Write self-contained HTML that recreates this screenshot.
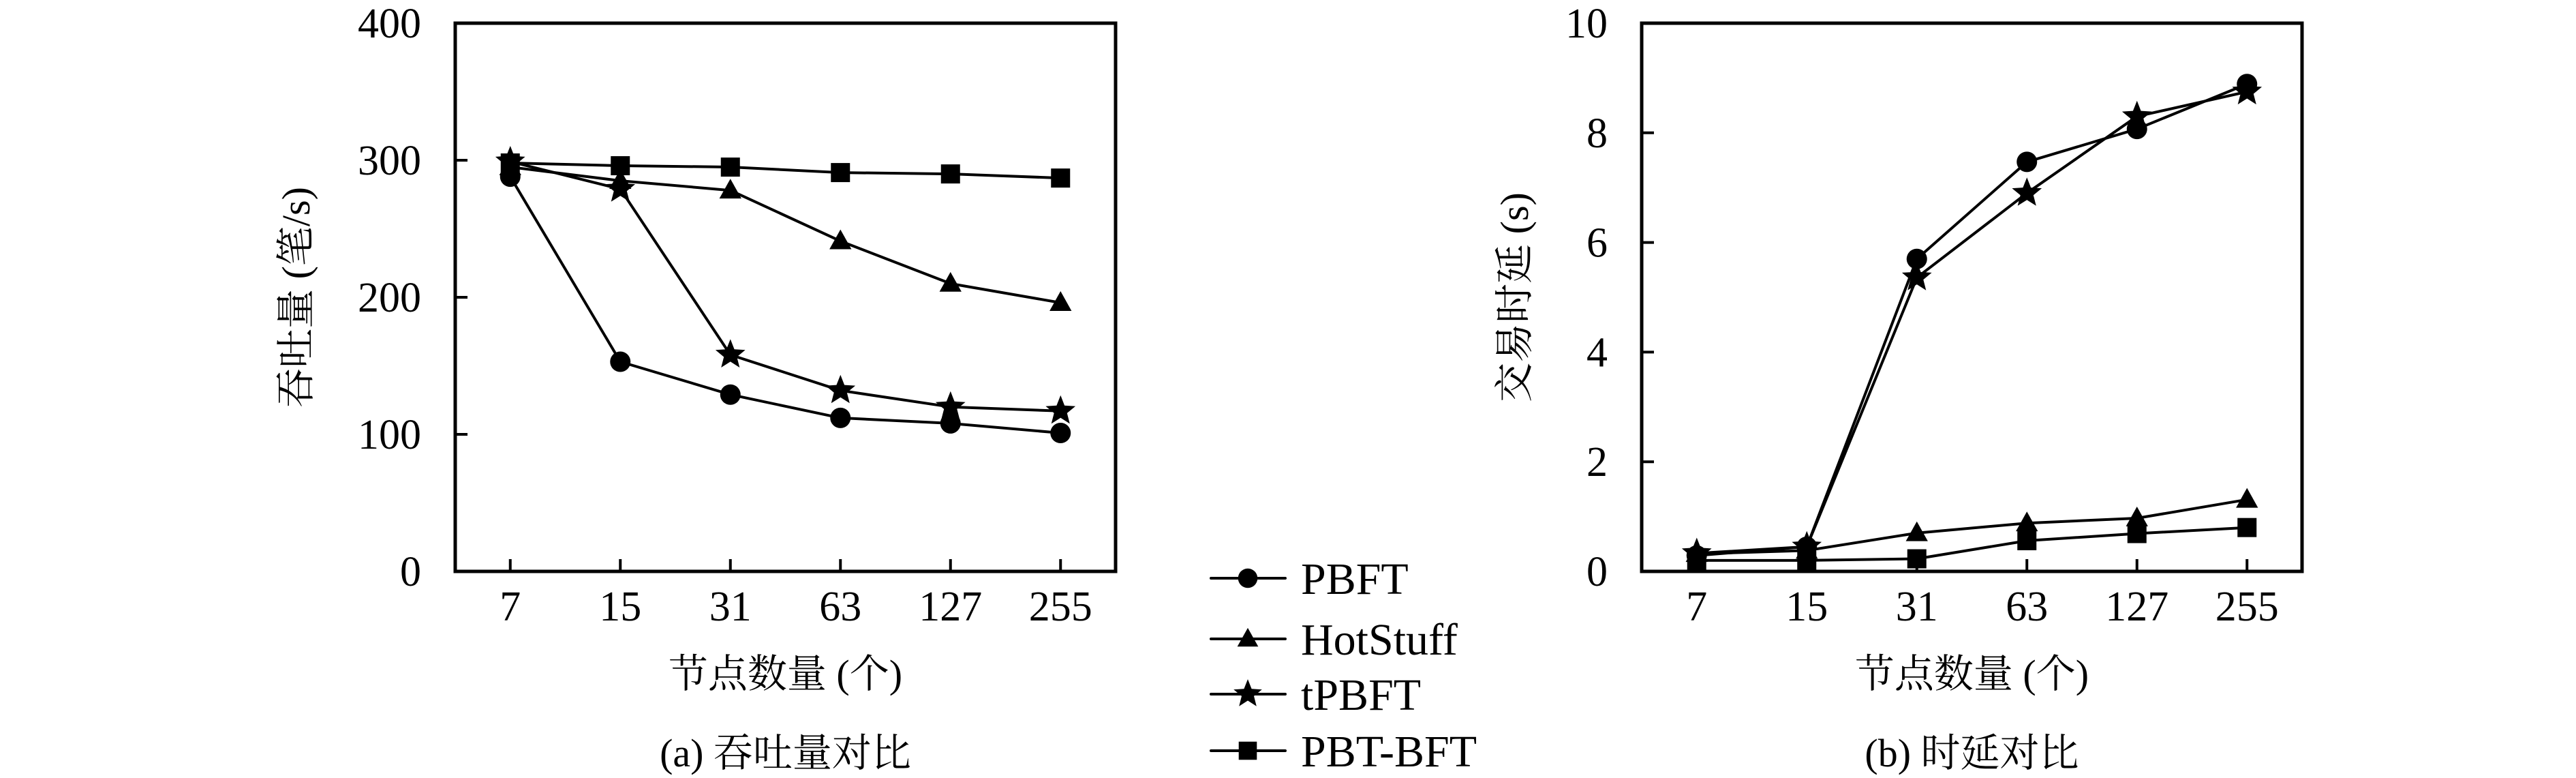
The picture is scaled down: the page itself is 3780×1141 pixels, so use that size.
<!DOCTYPE html>
<html><head><meta charset="utf-8"><style>
html,body{margin:0;padding:0;background:#fff;}
svg{display:block;}
text{font-family:"Liberation Serif","Noto Serif CJK SC",serif;fill:#000;}
</style></head><body>
<svg id="fig" width="3780" height="1141" viewBox="0 0 3780 1141" xmlns="http://www.w3.org/2000/svg"></svg>
<script>
const categories = ["7","15","31","63","127","255"];
const tpTicks = [0,100,200,300,400];
const latTicks = [0,2,4,6,8,10];
const seriesNames = ["PBFT","HotStuff","tPBFT","PBT-BFT"];
const markers = ["circle","triangle","star","square"];
const tpPBFT = [288,153,129,112,108,101];
const tpHotStuff = [295,285,278,241,210,196];
const tpTPBFT = [299,279,158,132,120,117];
const tpPBTBFT = [298,296,295,291,290,287];
const latPBFT = [0.29,0.45,5.7,7.47,8.07,8.89];
const latHotStuff = [0.32,0.38,0.7,0.88,0.97,1.31];
const latTPBFT = [0.33,0.45,5.36,6.9,8.3,8.75];
const latPBTBFT = [0.2,0.2,0.23,0.56,0.69,0.8];

const NS="http://www.w3.org/2000/svg";
const svg=document.getElementById('fig');
function mk(tag,attrs,parent){const e=document.createElementNS(NS,tag);for(const k in attrs)e.setAttribute(k,attrs[k]);(parent||svg).appendChild(e);return e;}

function marker(g,type,cx,cy,s){
  let e;
  if(type==="circle") e=mk('circle',{cx:cx,cy:cy,r:15*s},g);
  else if(type==="square") e=mk('rect',{x:cx-14*s,y:cy-14*s,width:28*s,height:28*s},g);
  else if(type==="triangle"){const r=17*s;e=mk('polygon',{points:`${cx},${cy-r} ${cx+r*0.95},${cy+r*0.7} ${cx-r*0.95},${cy+r*0.7}`},g);}
  else {let p=[];const R=23*s,r=10*s;for(let i=0;i<10;i++){const a=-Math.PI/2+i*Math.PI/5;const rr=i%2?r:R;p.push((cx+rr*Math.cos(a)).toFixed(1)+","+(cy+rr*Math.sin(a)).toFixed(1));}e=mk('polygon',{points:p.join(' ')},g);}
  e.setAttribute('fill','#000');
  return e;
}

function chart(cfg){
  const g=mk('g',{});
  
  
  const L=cfg.left,R=cfg.right,T=34,B=838;
  const step=(R-L)/categories.length;
  const xs=i=>L+step/2+i*step;
  const ys=v=>B-(v-cfg.min)/(cfg.max-cfg.min)*(B-T);
  const frame=mk('rect',{x:L,y:T,width:R-L,height:B-T,fill:'none',stroke:'#000','stroke-width':5},g);
  
  
  cfg.ticks.forEach(t=>{
    const y=ys(t);
    if(t!==cfg.min&&t!==cfg.max){const tk=mk('line',{x1:L,x2:L+18,y1:y,y2:y,stroke:'#000','stroke-width':4},g);}
    const tx=mk('text',{x:L-50,y:y+21,'font-size':62,'text-anchor':'end'},g);
    tx.textContent=t;
    
    
  });
  categories.forEach((c,i)=>{
    const x=xs(i);
    const tk=mk('line',{x1:x,x2:x,y1:B,y2:B-18,stroke:'#000','stroke-width':4},g);
    
    
    const tx=mk('text',{x:x,y:910,'font-size':62,'text-anchor':'middle'},g);
    tx.textContent=c;
    
    
  });
  cfg.series.forEach((vals,si)=>{
    const sg=mk('g',{},g);
    
    
    const pts=vals.map((v,i)=>xs(i).toFixed(1)+","+ys(v).toFixed(1)).join(' ');
    const pl=mk('polyline',{points:pts,fill:'none',stroke:'#000','stroke-width':4,'stroke-linejoin':'round'},sg);
    
    
    vals.forEach((v,i)=>{const m=marker(sg,markers[si],xs(i),ys(v),1);});
  });
  const cx=(L+R)/2;
  const xt=mk('text',{x:cx,y:1008,'font-size':58,'text-anchor':'middle'},g);
  xt.textContent='节点数量 (个)';
  
  
  const cap=mk('text',{x:cx,y:1124,'font-size':58,'text-anchor':'middle'},g);
  cap.textContent=cfg.caption;
  
  
  const yt=mk('text',{x:0,y:0,'font-size':58,'text-anchor':'middle',transform:`translate(${cfg.ytx},436) rotate(-90)`},g);
  yt.textContent=cfg.ytitle;
  
  
}

chart({name:'throughput-chart',left:668,right:1637,min:0,max:400,ticks:tpTicks,
  series:[tpPBFT,tpHotStuff,tpTPBFT,tpPBTBFT],caption:'(a) 吞吐量对比',ytitle:'吞吐量 (笔/s)',ytx:454});
chart({name:'latency-chart',left:2409,right:3378,min:0,max:10,ticks:latTicks,
  series:[latPBFT,latHotStuff,latTPBFT,latPBTBFT],caption:'(b) 时延对比',ytitle:'交易时延 (s)',ytx:2242});

const lg=mk('g',{});


const rowsY=[848,937,1018,1101];
seriesNames.forEach((n,i)=>{
  const eg=mk('g',{},lg);
  
  
  mk('line',{x1:1777,x2:1886,y1:rowsY[i],y2:rowsY[i],stroke:'#000','stroke-width':4,'stroke-linecap':'round'},eg);
  marker(eg,markers[i],1831,rowsY[i],0.95);
  const t=mk('text',{x:1909,y:rowsY[i]+23,'font-size':66},eg);
  t.textContent=n;
});
</script>
</body></html>
